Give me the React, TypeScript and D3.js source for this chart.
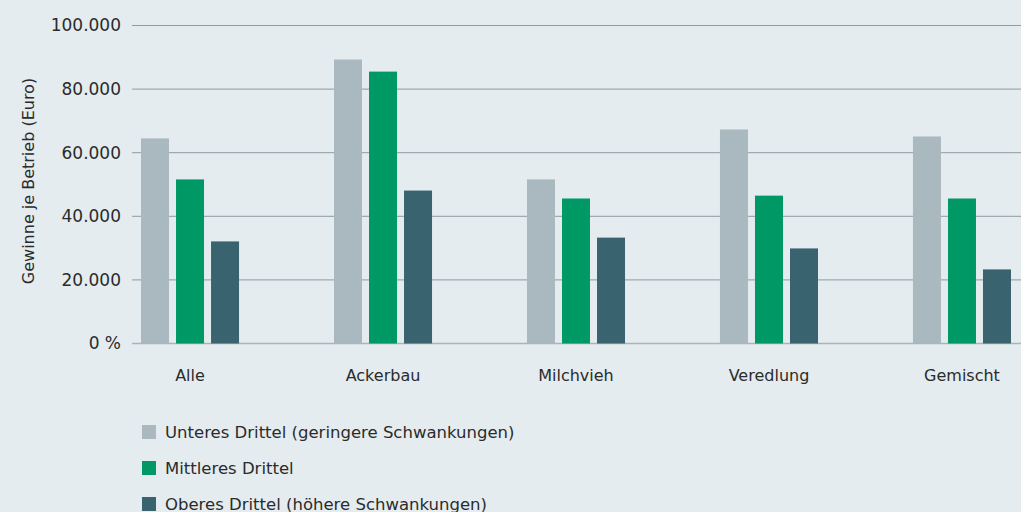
import { useMemo } from "react";
import * as d3 from "d3";

const WIDTH = 1021;
const HEIGHT = 512;
const BG = "#e4ecef";
const FONT = "'DejaVu Sans', sans-serif";

const CATEGORIES = ["Alle", "Ackerbau", "Milchvieh", "Veredlung", "Gemischt"];
const SERIES = [
  "Unteres Drittel (geringere Schwankungen)",
  "Mittleres Drittel",
  "Oberes Drittel (höhere Schwankungen)",
];
const COLORS = ["#aab8bf", "#009966", "#3a6370"];
const UNTERES = [64500, 89300, 51600, 67300, 65100];
const MITTLERES = [51600, 85500, 45600, 46500, 45600];
const OBERES = [32100, 48100, 33300, 29900, 23300];
const Y_TICKS = [0, 20000, 40000, 60000, 80000, 100000];

const fmt = (v: number) =>
  v === 0 ? "0 %" : d3.format(",")(v).replace(/,/g, ".");

function App() {
  const values = [UNTERES, MITTLERES, OBERES];

  const y = useMemo(
    () => d3.scaleLinear().domain([0, 100000]).range([343.5, 25.5]),
    []
  );
  const x0 = useMemo(
    () =>
      d3
        .scaleBand<string>()
        .domain(CATEGORIES)
        .range([141, 1011])
        .paddingInner(0.492)
        .paddingOuter(0),
    []
  );
  const x1 = useMemo(
    () =>
      d3
        .scaleBand<string>()
        .domain(SERIES)
        .range([0, x0.bandwidth()])
        .paddingInner(0.2),
    [x0]
  );

  return (
    <div style={{ position: "fixed", left: 0, top: 0 }}>
      <svg width={WIDTH} height={HEIGHT} style={{ display: "block" }}>
        <rect width={WIDTH} height={HEIGHT} fill={BG} />
        {Y_TICKS.map((t) => (
          <g key={t}>
            <line
              x1={132}
              x2={WIDTH}
              y1={y(t)}
              y2={y(t)}
              stroke={t === 0 ? "#a9b5b9" : "#8d9ca1"}
              strokeWidth={t === 0 ? 1.5 : 1}
            />
            <text
              x={121}
              y={y(t)}
              dy="0.35em"
              textAnchor="end"
              fontFamily={FONT}
              fontSize={17}
              fill="#2b2b2b"
            >
              {fmt(t)}
            </text>
          </g>
        ))}
        <text
          transform={`translate(34, 181) rotate(-90)`}
          textAnchor="middle"
          fontFamily={FONT}
          fontSize={16}
          fill="#2b2b2b"
        >
          Gewinne je Betrieb (Euro)
        </text>
        {CATEGORIES.map((c, ci) => (
          <g key={c} transform={`translate(${x0(c)}, 0)`}>
            {SERIES.map((s, si) => (
              <rect
                key={s}
                x={x1(s)}
                y={y(values[si][ci])}
                width={x1.bandwidth()}
                height={y(0) - y(values[si][ci])}
                fill={COLORS[si]}
              />
            ))}
            <text
              x={x0.bandwidth() / 2}
              y={381}
              textAnchor="middle"
              fontFamily={FONT}
              fontSize={16}
              fill="#2b2b2b"
            >
              {c}
            </text>
          </g>
        ))}
        {SERIES.map((s, i) => (
          <g key={s} transform={`translate(142, ${432 + i * 36})`}>
            <rect x={0} y={-7} width={14} height={14} fill={COLORS[i]} />
            <text
              x={23}
              y={0}
              dy="0.35em"
              fontFamily={FONT}
              fontSize={16.5}
              fill="#2b2b2b"
            >
              {s}
            </text>
          </g>
        ))}
      </svg>
    </div>
  );
}

export default App;
